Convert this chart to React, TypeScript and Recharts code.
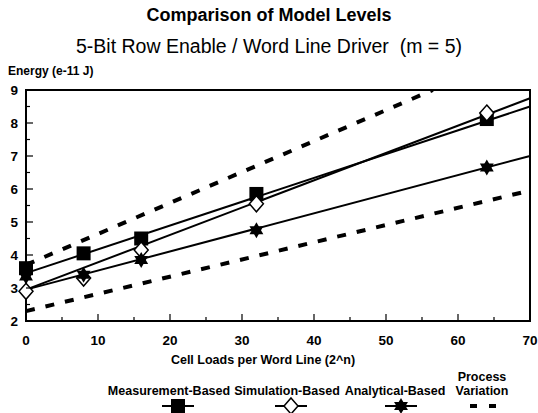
import { ComposedChart, Line, Scatter, XAxis, YAxis, ReferenceArea } from "recharts";

// x = cell loads per word line, y = energy (e-11 J)
const loads = [0, 8, 16, 32, 64];
const measured = [3.6, 4.05, 4.5, 5.85, 8.12];
const simulated = [2.9, 3.3, 4.15, 5.55, 8.3];
const analytical = [3.35, 3.4, 3.85, 4.75, 6.65];

// fitted lines drawn through the points
const fitLoads = [0, 70];
const measuredFit = [3.45, 8.5];
const simulatedFit = [2.95, 8.75];
const analyticalFit = [2.95, 7.0];

// process variation band
const upperLoads = [0, 56.5];
const upperBound = [3.7, 9.0];
const lowerLoads = [0, 69];
const lowerBound = [2.3, 5.9];

const xTicks = [0, 5, 10, 15, 20, 25, 30, 35, 40, 45, 50, 55, 60, 65, 70];
const yTicks = [2, 2.5, 3, 3.5, 4, 4.5, 5, 5.5, 6, 6.5, 7, 7.5, 8, 8.5, 9];

const FONT = "'Liberation Sans', Arial, Helvetica, sans-serif";

const pts = (xs: number[], ys: number[]) => xs.map((x, i) => ({ x, y: ys[i] }));

function SquareMark({ cx, cy }: any) {
  return <rect x={cx - 7} y={cy - 7} width={14} height={14} fill="#000" />;
}

function DiamondMark({ cx, cy }: any) {
  return (
    <polygon
      points={`${cx},${cy - 8} ${cx + 7},${cy} ${cx},${cy + 8} ${cx - 7},${cy}`}
      fill="#fff"
      stroke="#000"
      strokeWidth={1.5}
    />
  );
}

function StarMark({ cx, cy }: any) {
  const r = 8;
  const tri = (rot: number) =>
    [0, 1, 2]
      .map((k) => {
        const a = rot + (k * 2 * Math.PI) / 3;
        return `${cx + r * Math.sin(a)},${cy - r * Math.cos(a)}`;
      })
      .join(" ");
  return (
    <g fill="#000">
      <polygon points={tri(0)} />
      <polygon points={tri(Math.PI)} />
    </g>
  );
}

const series = [
  { name: "Measurement-Based", values: measured, fit: measuredFit, Mark: SquareMark },
  { name: "Simulation-Based", values: simulated, fit: simulatedFit, Mark: DiamondMark },
  { name: "Analytical-Based", values: analytical, fit: analyticalFit, Mark: StarMark },
];

function XTick({ x, y, payload }: any) {
  const major = payload.value % 10 === 0;
  const axisY = y - 4;
  return (
    <g>
      <line x1={x} x2={x} y1={axisY} y2={axisY - (major ? 7 : 4)} stroke="#000" strokeWidth={1.2} />
      {major && (
        <text x={x} y={axisY + 24} textAnchor="middle" fontFamily={FONT} fontWeight="bold" fontSize={13.5} fill="#000">
          {payload.value}
        </text>
      )}
    </g>
  );
}

function YTick({ x, y, payload }: any) {
  const major = Number.isInteger(payload.value);
  const axisX = x + 8;
  return (
    <g>
      <line x1={axisX} x2={axisX + (major ? 7 : 4)} y1={y} y2={y} stroke="#000" strokeWidth={1.2} />
      {major && (
        <text x={axisX - 8} y={y + 5} textAnchor="end" fontFamily={FONT} fontWeight="bold" fontSize={13.5} fill="#000">
          {payload.value}
        </text>
      )}
    </g>
  );
}

function LegendRow() {
  const items = [
    { label: "Measurement-Based", cx: 169, mark: 178 },
    { label: "Simulation-Based", cx: 287, mark: 291 },
    { label: "Analytical-Based", cx: 395, mark: 401 },
  ];
  return (
    <svg width={538} height={60} style={{ position: "absolute", left: 0, top: 360 }}>
      {items.map((it, i) => {
        const Mark = series[i].Mark;
        return (
          <g key={it.label}>
            <text x={it.cx} y={35} textAnchor="middle" fontFamily={FONT} fontWeight="bold" fontSize={12.5}>
              {it.label}
            </text>
            <line x1={it.mark - 16} x2={it.mark + 16} y1={46} y2={46} stroke="#000" strokeWidth={2} />
            <Mark cx={it.mark} cy={46} />
          </g>
        );
      })}
      <text x={482} y={21} textAnchor="middle" fontFamily={FONT} fontWeight="bold" fontSize={12.5}>
        Process
      </text>
      <text x={482} y={35} textAnchor="middle" fontFamily={FONT} fontWeight="bold" fontSize={12.5}>
        Variation
      </text>
      <line x1={470} x2={500} y1={46} y2={46} stroke="#000" strokeWidth={4} strokeDasharray="7 12" />
    </svg>
  );
}

export default function App() {
  return (
    <div style={{ position: "absolute", left: 0, top: 0, width: 538, height: 413, background: "#fff", fontFamily: FONT, overflow: "hidden" }}>
      <div style={{ position: "absolute", top: 5, width: 538, textAlign: "center", fontWeight: "bold", fontSize: 18 }}>
        Comparison of Model Levels
      </div>
      <div style={{ position: "absolute", top: 35, width: 538, textAlign: "center", fontSize: 19.5 }}>
        5-Bit Row Enable / Word Line Driver&nbsp;&nbsp;(m = 5)
      </div>
      <div style={{ position: "absolute", top: 64, left: 8, fontWeight: "bold", fontSize: 12 }}>Energy (e-11 J)</div>
      <div style={{ position: "absolute", left: 0, top: 0 }}>
        <ComposedChart width={538} height={413} margin={{ top: 90, right: 8, bottom: 72, left: 0 }}>
          <XAxis
            type="number"
            dataKey="x"
            domain={[0, 70]}
            ticks={xTicks}
            interval={0}
            axisLine={false}
            tickLine={false}
            tickSize={0}
            tickMargin={4}
            tick={<XTick />}
            height={20}
          />
          <YAxis
            type="number"
            dataKey="y"
            domain={[2, 9]}
            ticks={yTicks}
            interval={0}
            axisLine={false}
            tickLine={false}
            tickSize={0}
            tickMargin={8}
            tick={<YTick />}
            width={26}
            allowDataOverflow
          />
          <ReferenceArea x1={0} x2={70} y1={2} y2={9} fill="none" stroke="#000" strokeWidth={2} ifOverflow="visible" />
          <Line data={pts(upperLoads, upperBound)} dataKey="y" stroke="#000" strokeWidth={4} strokeDasharray="9 11" dot={false} isAnimationActive={false} />
          <Line data={pts(lowerLoads, lowerBound)} dataKey="y" stroke="#000" strokeWidth={4} strokeDasharray="9 11" dot={false} isAnimationActive={false} />
          {series.map((s) => (
            <Line key={s.name + "-fit"} data={pts(fitLoads, s.fit)} dataKey="y" stroke="#000" strokeWidth={2} dot={false} isAnimationActive={false} />
          ))}
          {series.map((s) => (
            <Scatter key={s.name} name={s.name} data={pts(loads, s.values)} dataKey="y" shape={<s.Mark />} isAnimationActive={false} />
          ))}
        </ComposedChart>
      </div>
      <LegendRow />
      <div style={{ position: "absolute", top: 353, width: 538, left: -6, textAlign: "center", fontWeight: "bold", fontSize: 12.5 }}>
        Cell Loads per Word Line (2^n)
      </div>
    </div>
  );
}
